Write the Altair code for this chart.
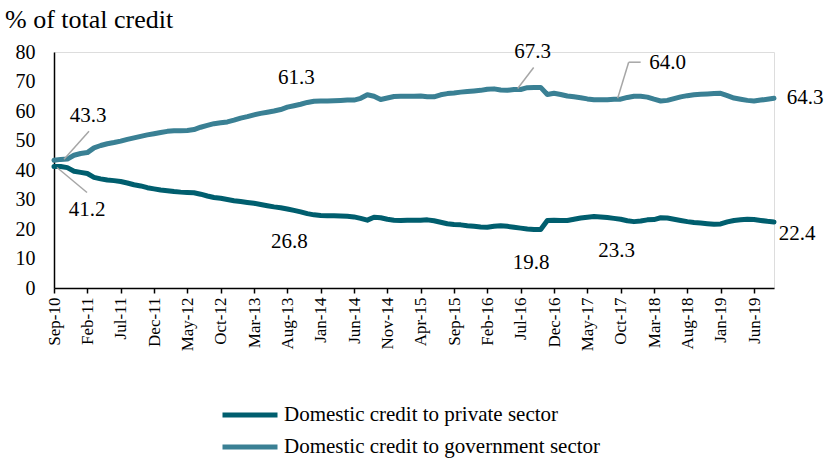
import altair as alt
import pandas as pd

# ---------------- data ----------------
months = pd.date_range("2010-09-01", "2019-09-01", freq="MS").strftime("%b-%y").tolist()  # Sep-10 .. Sep-19

private = [
    41.2, 41.2, 40.8, 39.6, 39.2, 38.8, 37.5, 37.0, 36.6, 36.4,
    36.1, 35.6, 35.0, 34.6, 34.0, 33.6, 33.2, 33.0, 32.7, 32.5,
    32.4, 32.3, 31.8, 31.2, 30.7, 30.4, 30.0, 29.6, 29.3, 29.0,
    28.7, 28.3, 27.9, 27.5, 27.2, 26.8, 26.3, 25.8, 25.2, 24.8,
    24.6, 24.5, 24.5, 24.4, 24.3, 24.1, 23.6, 23.0, 24.0, 23.8,
    23.3, 23.0, 22.9, 23.0, 23.0, 23.0, 23.1, 22.8, 22.3, 21.8,
    21.5, 21.4, 21.1, 20.9, 20.7, 20.6, 20.9, 21.1, 20.9, 20.6,
    20.3, 20.0, 19.8, 19.8, 22.9, 23.0, 22.9, 22.9, 23.3, 23.7,
    24.0, 24.2, 24.1, 23.9, 23.6, 23.3, 22.8, 22.5, 22.7, 23.1,
    23.2, 23.8, 23.7, 23.3, 22.9, 22.5, 22.2, 22.0, 21.8, 21.6,
    21.7, 22.4, 22.9, 23.1, 23.3, 23.2, 22.9, 22.6, 22.4,
]

government = [
    43.3, 43.6, 43.7, 45.0, 45.6, 45.9, 47.5, 48.3, 48.9, 49.3,
    49.8, 50.4, 50.9, 51.4, 51.9, 52.3, 52.7, 53.1, 53.3, 53.3,
    53.4, 53.7, 54.5, 55.1, 55.7, 56.0, 56.3, 56.9, 57.6, 58.1,
    58.7, 59.2, 59.6, 60.0, 60.5, 61.3, 61.8, 62.3, 62.9, 63.3,
    63.4, 63.4, 63.5, 63.6, 63.7, 63.7, 64.3, 65.5, 65.0, 63.9,
    64.4, 64.9, 65.0, 65.0, 65.0, 65.1, 64.8, 64.8, 65.5, 65.9,
    66.1, 66.4, 66.6, 66.8, 67.0, 67.4, 67.5, 67.1, 67.0, 67.3,
    67.3, 67.9, 68.0, 68.0, 65.6, 66.0, 65.6, 65.1, 64.8, 64.5,
    64.1, 63.8, 63.8, 63.8, 64.0, 64.0, 64.6, 65.0, 65.0, 64.7,
    64.0, 63.4, 63.6, 64.2, 64.8, 65.2, 65.5, 65.7, 65.8, 65.9,
    66.0, 65.2, 64.4, 64.0, 63.6, 63.4, 63.7, 64.0, 64.3,
]

series_names = ["Domestic credit to private sector", "Domestic credit to government sector"]
series_colors = ["#005E6E", "#3A8094"]

tick_labels = ["Sep-10", "Feb-11", "Jul-11", "Dec-11", "May-12", "Oct-12", "Mar-13", "Aug-13",
               "Jan-14", "Jun-14", "Nov-14", "Apr-15", "Sep-15", "Feb-16", "Jul-16", "Dec-16",
               "May-17", "Oct-17", "Mar-18", "Aug-18", "Jan-19", "Jun-19"]

# data labels
ann_month = ["Sep-10", "Sep-10", "Aug-13", "Aug-13", "Jul-16", "Sep-16", "Oct-17", "Oct-17", "Sep-19", "Sep-19"]
ann_value = [43.3, 41.2, 61.3, 26.8, 67.3, 19.8, 64.0, 23.3, 64.3, 22.4]
ann_text = ["43.3", "41.2", "61.3", "26.8", "67.3", "19.8", "64.0", "23.3", "64.3", "22.4"]

# ---------------- tables ----------------
idx = list(range(len(months)))
df = pd.concat([
    pd.DataFrame({"i": idx, "month": months, "value": private, "series": series_names[0]}),
    pd.DataFrame({"i": idx, "month": months, "value": government, "series": series_names[1]}),
])
ann = pd.DataFrame({"i": [months.index(m) for m in ann_month], "value": ann_value, "text": ann_text})

# label offsets (style) and leader lines (style)
ann_dx = [34, 33, 9, 2, 12, -3, 47, -4, 31, 23]
ann_dy = [-44, 44, -29, 33, -37, 33, -36, 32, 0, 12]
leaders = [  # (annotation, x offset start, y offset start, x offset end, y offset end)
    (0, 10, -1, 35, -29),
    (1, 3, 1, 33, 26),
    (4, -3, -1, 13, -22),
    (6, -3, -1, 8, -37),
    (6, 8, -37, 20, -37),
]

FONT = "Liberation Serif"
W, H = 720, 236

x_axis = alt.Axis(values=list(range(0, len(months), 5)),
                  labelExpr="[" + ",".join("'%s'" % t for t in tick_labels) + "][datum.value / 5]",
                  labelAngle=270, labelFont=FONT, labelFontSize=17, labelColor="black",
                  labelPadding=4, tickSize=5, tickColor="black", tickWidth=1.5,
                  domainColor="black", domainWidth=1.5, grid=False, title=None,
                  labelOverlap=False)
y_axis = alt.Axis(values=list(range(0, 81, 10)), labelFont=FONT, labelFontSize=20,
                  labelColor="black", ticks=False, tickSize=0, labelPadding=19,
                  domainColor="black", domainWidth=1.5, grid=False, title=None,
                  labelOverlap=False)
x_scale = alt.Scale(domain=[0, len(months) - 1], nice=False, zero=False)
y_scale = alt.Scale(domain=[0, 80], nice=False)


def xe():
    return alt.X("i:Q", scale=x_scale, axis=x_axis)


def ye():
    return alt.Y("value:Q", scale=y_scale, axis=y_axis)


lines = alt.Chart(df).mark_line(strokeWidth=5, strokeCap="round", strokeJoin="round").encode(
    x=xe(),
    y=ye(),
    color=alt.Color("series:N", scale=alt.Scale(domain=series_names, range=series_colors),
                    sort=series_names,
                    legend=alt.Legend(title=None, orient="none", legendX=166, legendY=351,
                                      symbolType="stroke", symbolSize=3025, symbolStrokeWidth=5,
                                      labelFont=FONT, labelFontSize=21, labelColor="black",
                                      labelOffset=4, labelLimit=600, clipHeight=24, rowPadding=8,
                                      padding=0)),
)

layers = [lines]
for a, x1, y1, x2, y2 in leaders:
    layers.append(
        alt.Chart(ann.iloc[[a]]).mark_rule(color="#A6A6A6", strokeWidth=1.5,
                                           xOffset=x1, yOffset=y1, x2Offset=x2, y2Offset=y2).encode(
            x=xe(), x2="i:Q", y=ye(), y2="value:Q")
    )
for k in range(len(ann)):
    layers.append(
        alt.Chart(ann.iloc[[k]]).mark_text(font=FONT, fontSize=21, color="black", align="center",
                                           baseline="middle", dx=ann_dx[k], dy=ann_dy[k]).encode(
            x=xe(), y=ye(), text="text:N")
    )

chart = alt.layer(*layers).properties(
    width=W, height=H,
    title=alt.TitleParams("% of total credit", anchor="start", frame="group", dx=-49, font=FONT,
                          fontSize=26, fontWeight="normal", color="black", offset=8),
    autosize=alt.AutoSizeParams(type="none"),
    padding={"left": 54, "top": 52, "right": 60, "bottom": 171},
).configure_view(stroke=None).configure(background="white")

chart.save("out.html", embed_options={"renderer": "svg", "actions": False})
